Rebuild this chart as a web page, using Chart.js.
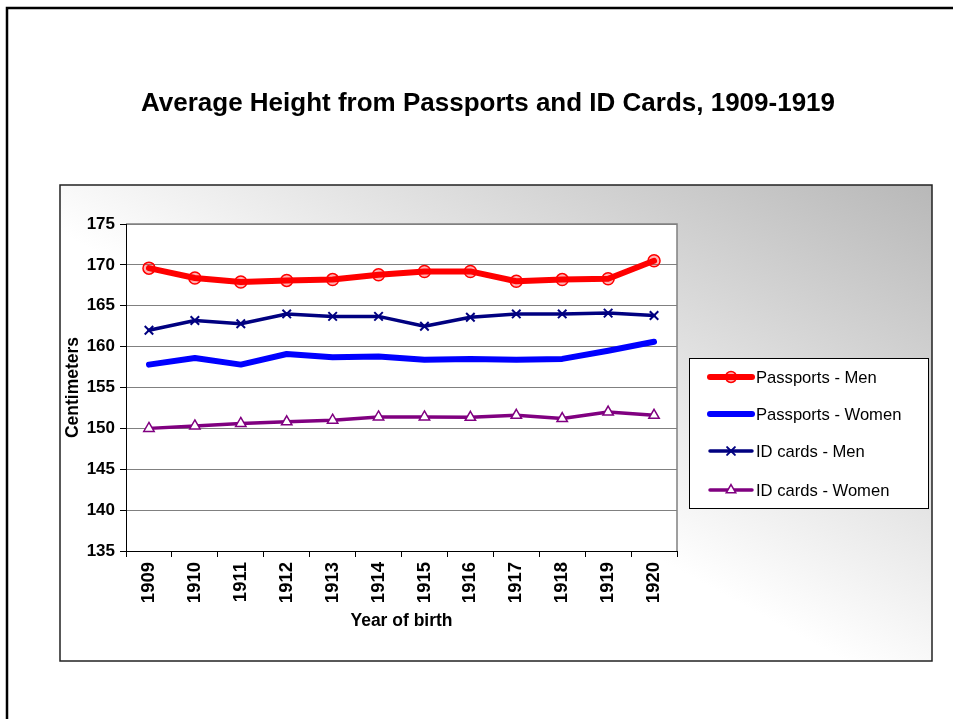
<!DOCTYPE html>
<html>
<head>
<meta charset="utf-8">
<title>Average Height from Passports and ID Cards</title>
<script src="https://cdn.jsdelivr.net/npm/chart.js@4.4.1/dist/chart.umd.min.js"></script>
<style>
  body { margin: 0; background: #fff; }
  canvas { display: block; }
</style>
</head>
<body>
<canvas id="myChart" width="953" height="719"></canvas>
<script>
'use strict';

const years = ['1909', '1910', '1911', '1912', '1913', '1914', '1915', '1916', '1917', '1918', '1919', '1920'];
const passportsMen = [169.6, 168.4, 167.9, 168.1, 168.2, 168.8, 169.2, 169.2, 168.0, 168.2, 168.3, 170.5];
const passportsWomen = [157.8, 158.6, 157.8, 159.1, 158.7, 158.8, 158.4, 158.5, 158.4, 158.5, 159.5, 160.6];
const idMen = [162.0, 163.2, 162.8, 164.0, 163.7, 163.7, 162.5, 163.6, 164.0, 164.0, 164.1, 163.8];
const idWomen = [150.0, 150.3, 150.6, 150.8, 151.0, 151.4, 151.4, 151.35, 151.6, 151.2, 152.0, 151.6];
const yMin = 135;
const yMax = 175;
const yStep = 5;

const chartTitle = 'Average Height from Passports and ID Cards, 1909-1919';
const fontName = '"Liberation Sans", Arial, sans-serif';

// background, frame, title and the plot box
const backdrop = {
  id: 'backdrop',
  beforeDraw(chart) {
    const ctx = chart.ctx;
    const area = chart.chartArea;
    ctx.save();
    ctx.fillStyle = '#fff';
    ctx.fillRect(0, 0, chart.width, chart.height);

    // outer frame (top and left only are visible)
    ctx.strokeStyle = '#000';
    ctx.lineWidth = 2.5;
    ctx.beginPath();
    ctx.moveTo(7, chart.height);
    ctx.lineTo(7, 8);
    ctx.lineTo(chart.width, 8);
    ctx.stroke();

    // chart box with diagonal gradient
    const bx = 60, by = 185, bw = 872, bh = 476;
    ctx.save();
    ctx.translate(bx, by);
    ctx.scale(bw, bh);
    const grad = ctx.createLinearGradient(0, 1, 1, 0);
    grad.addColorStop(0, '#ffffff');
    grad.addColorStop(0.45, '#ffffff');
    grad.addColorStop(1, '#b8b8b8');
    ctx.fillStyle = grad;
    ctx.fillRect(0, 0, 1, 1);
    ctx.restore();
    ctx.strokeStyle = '#222';
    ctx.lineWidth = 1.5;
    ctx.strokeRect(bx, by, bw, bh);

    // title
    ctx.fillStyle = '#000';
    ctx.font = 'bold 26px ' + fontName;
    ctx.textAlign = 'center';
    ctx.textBaseline = 'alphabetic';
    ctx.fillText(chartTitle, 488, 111);

    // plot area
    ctx.fillStyle = '#fff';
    ctx.fillRect(area.left, area.top, area.right - area.left, area.bottom - area.top);
    ctx.strokeStyle = '#808080';
    ctx.lineWidth = 1.5;
    ctx.beginPath();
    ctx.moveTo(area.left, area.top);
    ctx.lineTo(area.right, area.top);
    ctx.lineTo(area.right, area.bottom);
    ctx.stroke();
    ctx.restore();
  },
  afterDraw(chart) {
    // legend box
    const ctx = chart.ctx;
    const lx = 689, ly = 358, lw = 239, lh = 150;
    const rows = [377, 414, 451, 490];
    ctx.save();
    ctx.fillStyle = '#fff';
    ctx.fillRect(lx, ly, lw, lh);
    ctx.strokeStyle = '#000';
    ctx.lineWidth = 1;
    ctx.strokeRect(lx + 0.5, ly + 0.5, lw, lh);
    chart.data.datasets.forEach((ds, i) => {
      const y = rows[i];
      ctx.strokeStyle = ds.borderColor;
      ctx.lineWidth = ds.borderWidth;
      ctx.lineCap = 'round';
      ctx.beginPath();
      ctx.moveTo(710, y);
      ctx.lineTo(752, y);
      ctx.stroke();
      if (ds.pointRadius > 0) {
        ctx.strokeStyle = ds.pointBorderColor;
        ctx.fillStyle = ds.pointBackgroundColor;
        ctx.lineWidth = ds.pointBorderWidth;
        Chart.helpers.drawPoint(ctx, {
          pointStyle: ds.pointStyle,
          radius: ds.pointRadius - 0.5,
          borderWidth: ds.pointBorderWidth,
          rotation: 0
        }, 731, y);
      }
      ctx.fillStyle = '#000';
      ctx.font = '16.6px ' + fontName;
      ctx.textAlign = 'left';
      ctx.textBaseline = 'middle';
      ctx.fillText(ds.label, 756, y + 1);
    });
    ctx.restore();
  }
};

const ctx = document.getElementById('myChart').getContext('2d');
const chart = new Chart(ctx, {
  type: 'line',
  data: {
    labels: years,
    datasets: [{
      label: 'Passports - Men',
      data: passportsMen,
      borderColor: '#ff0000',
      borderWidth: 6,
      pointStyle: 'circle',
      pointRadius: 6,
      pointBorderWidth: 1.5,
      pointBorderColor: '#ff0000',
      pointBackgroundColor: 'rgba(255,0,0,0.3)'
    },
    {
      label: 'Passports - Women',
      data: passportsWomen,
      borderColor: '#0000ff',
      borderWidth: 6,
      pointRadius: 0,
      pointBorderWidth: 0,
      pointBorderColor: '#0000ff',
      pointBackgroundColor: '#0000ff'
    },
    {
      label: 'ID cards - Men',
      data: idMen,
      borderColor: '#000080',
      borderWidth: 3.5,
      pointStyle: 'crossRot',
      pointRadius: 6,
      pointBorderWidth: 2,
      pointBorderColor: '#000080',
      pointBackgroundColor: '#000080'
    },
    {
      label: 'ID cards - Women',
      data: idWomen,
      borderColor: '#800080',
      borderWidth: 3.5,
      pointStyle: 'triangle',
      pointRadius: 6,
      pointBorderWidth: 1.5,
      pointBorderColor: '#800080',
      pointBackgroundColor: '#ffffff'
    }]
  },
  options: {
    responsive: false,
    animation: false,
    devicePixelRatio: 1,
    layout: { padding: { left: 60, top: 224, right: 276, bottom: 59 } },
    elements: { line: { tension: 0, borderJoinStyle: 'round', borderCapStyle: 'round' } },
    plugins: {
      legend: { display: false },
      title: { display: false },
      tooltip: { enabled: false }
    },
    scales: {
      x: {
        offset: true,
        grid: { offset: true, drawOnChartArea: false, drawTicks: true, tickLength: 6, color: '#000' },
        border: { color: '#000', width: 1 },
        ticks: {
          color: '#000',
          font: { family: fontName, size: 18.5, weight: 'bold' },
          minRotation: 90,
          maxRotation: 90,
          autoSkip: false,
          padding: 5
        },
        title: {
          display: true,
          text: 'Year of birth',
          color: '#000',
          font: { family: fontName, size: 17.5, weight: 'bold' },
          padding: { top: 0, bottom: 28 }
        },
        afterFit(scale) { scale.height = 109; }
      },
      y: {
        min: yMin,
        max: yMax,
        ticks: {
          stepSize: yStep,
          color: '#000',
          font: { family: fontName, size: 17, weight: 'bold' },
          padding: 5
        },
        grid: { color: '#808080', tickColor: '#000', tickLength: 6 },
        border: { color: '#000', width: 1 },
        title: {
          display: true,
          text: 'Centimeters',
          color: '#000',
          font: { family: fontName, size: 17.5, weight: 'bold' },
          padding: { top: 3, bottom: 0 }
        },
        afterFit(scale) { scale.width = 66; }
      }
    }
  },
  plugins: [backdrop]
});
</script>
</body>
</html>
